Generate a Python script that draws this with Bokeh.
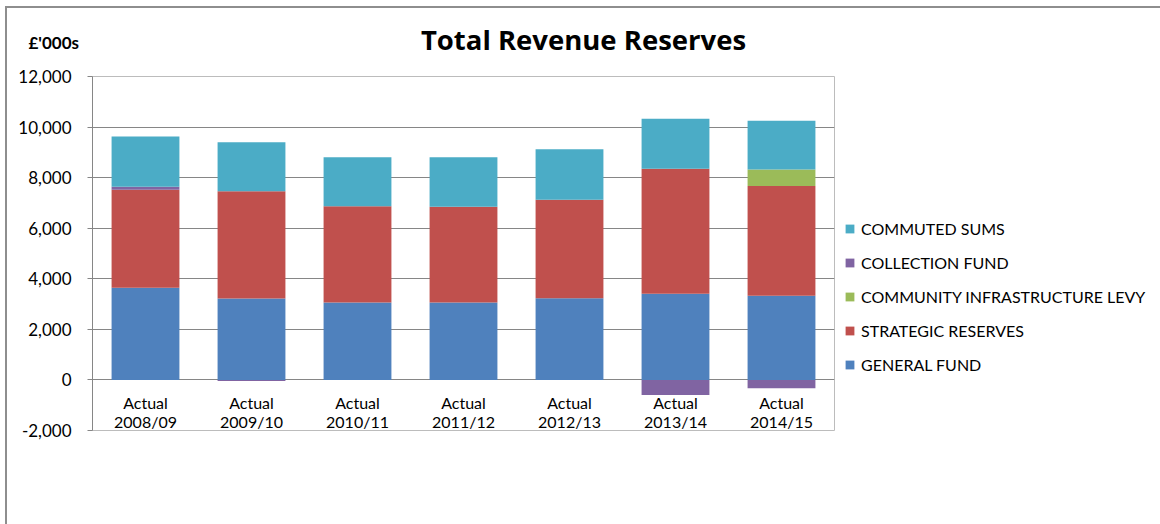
import numpy as np
from bokeh.plotting import figure
from bokeh.models import (ColumnDataSource, Range1d, FactorRange, Legend, LegendItem,
                          Label, SingleIntervalTicker, NumeralTickFormatter)
from bokeh.core.properties import value
from bokeh.embed import file_html
from bokeh.resources import INLINE

years = ["2008/09", "2009/10", "2010/11", "2011/12", "2012/13", "2013/14", "2014/15"]
prefix = "Actual"
general_fund = [3650, 3220, 3060, 3060, 3235, 3405, 3330]
strategic_reserves = [3875, 4240, 3805, 3790, 3895, 4950, 4340]
cil = [0, 0, 0, 0, 0, 0, 650]
collection_fund = [115, -40, 0, 0, 0, -600, -330]
commuted_sums = [1985, 1940, 1940, 1955, 1990, 1970, 1930]

series_names = ["GENERAL FUND", "STRATEGIC RESERVES", "COMMUNITY INFRASTRUCTURE LEVY",
                "COLLECTION FUND", "COMMUTED SUMS"]
series_values = [general_fund, strategic_reserves, cil, collection_fund, commuted_sums]
colors = ["#4F81BD", "#C0504D", "#9BBB59", "#8064A2", "#4BACC6"]

FONT = "Lato"

p = figure(frame_width=742, frame_height=354, x_range=FactorRange(*years, range_padding=0),
           y_range=Range1d(-2000, 12000), output_backend="svg", toolbar_location=None,
           min_border_left=85, min_border_right=325, min_border_top=68, min_border_bottom=94)
p.styles = {"margin-left": "5px", "margin-top": "6px",
            "border-left": "2px solid #8e8e8e", "border-top": "2px solid #8e8e8e",
            "border-right": "2px solid #8e8e8e"}

pos = np.zeros(len(years))
neg = np.zeros(len(years))
renderers = []
for name, vals, col in zip(series_names, series_values, colors):
    v = np.array(vals, dtype=float)
    bottom = np.where(v >= 0, pos, neg)
    top = bottom + v
    pos = np.where(v >= 0, top, pos)
    neg = np.where(v < 0, top, neg)
    src = ColumnDataSource(dict(x=years, top=top, bottom=bottom))
    r = p.vbar(x="x", top="top", bottom="bottom", width=0.64, source=src,
               fill_color=col, line_color=None)
    renderers.append((name, r))

lab_src = ColumnDataSource(dict(x=years, t1=[prefix] * len(years), t2=years,
                                y1=[-880] * len(years), y2=[-1650] * len(years)))
p.text(x="x", y="y1", text="t1", source=lab_src, text_align="center", text_baseline="middle",
       text_font=value(FONT), text_font_size="16px", text_color="#000000")
p.text(x="x", y="y2", text="t2", source=lab_src, text_align="center", text_baseline="middle",
       text_font=value(FONT), text_font_size="16px", text_color="#000000")

p.xaxis.visible = False
p.xgrid.grid_line_color = None
p.ygrid.grid_line_color = "#868686"
p.ygrid.grid_line_width = 1
p.outline_line_color = "#bcbcbc"

ax = p.yaxis[0]
ax.ticker = SingleIntervalTicker(interval=2000)
ax.formatter = NumeralTickFormatter(format="0,0")
ax.axis_line_color = "#868686"
ax.major_tick_line_color = "#868686"
ax.major_tick_out = 5
ax.major_tick_in = 0
ax.minor_tick_line_color = None
ax.major_label_standoff = 16
ax.major_label_text_font = FONT
ax.major_label_text_font_size = "17px"
ax.major_label_text_color = "#000000"

items = [LegendItem(label=n, renderers=[r]) for n, r in reversed(renderers)]
legend = Legend(items=items, location=(10, 56), orientation="vertical",
                label_text_font=FONT, label_text_font_size="16px", label_text_color="#000000",
                glyph_width=11, glyph_height=11, label_height=20, spacing=14,
                padding=5, margin=0, border_line_color=None, background_fill_alpha=0,
                label_standoff=6)
p.add_layout(legend, "right")

p.add_layout(Label(x=491, y=37, x_units="screen", y_units="screen",
                   text="Total Revenue Reserves", text_align="center", text_baseline="middle",
                   text_font="Open Sans", text_font_size="27.5px", text_font_style="bold",
                   text_color="#000000"), "above")
p.add_layout(Label(x=-64, y=-3, x_units="screen", y_units="screen",
                   text="£'000s", text_align="left", text_baseline="middle",
                   text_font=FONT, text_font_size="17px", text_font_style="bold",
                   text_color="#000000"), "above")

open("out.html", "w").write(file_html(p, INLINE))
